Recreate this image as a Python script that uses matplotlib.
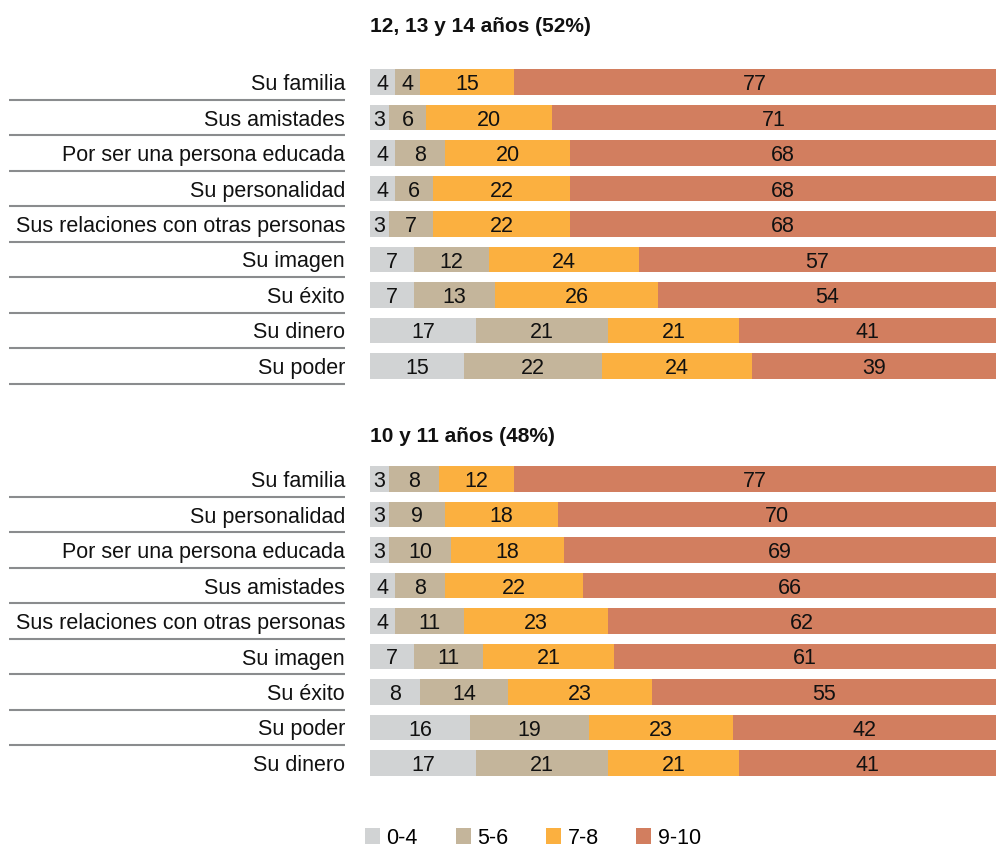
import matplotlib
matplotlib.use("Agg")
import matplotlib.pyplot as plt
from matplotlib.patches import Patch

plt.rcParams['font.family'] = ['Liberation Sans', 'DejaVu Sans']

legend_labels = ["0-4", "5-6", "7-8", "9-10"]
colors = ["#d1d3d4", "#c4b59b", "#fbb040", "#d27e5f"]

title1 = "12, 13 y 14 años (52%)"
cats1 = ["Su familia", "Sus amistades", "Por ser una persona educada", "Su personalidad",
         "Sus relaciones con otras personas", "Su imagen", "Su éxito", "Su dinero", "Su poder"]
v1_04 = [4, 3, 4, 4, 3, 7, 7, 17, 15]
v1_56 = [4, 6, 8, 6, 7, 12, 13, 21, 22]
v1_78 = [15, 20, 20, 22, 22, 24, 26, 21, 24]
v1_910 = [77, 71, 68, 68, 68, 57, 54, 41, 39]

title2 = "10 y 11 años (48%)"
cats2 = ["Su familia", "Su personalidad", "Por ser una persona educada", "Sus amistades",
         "Sus relaciones con otras personas", "Su imagen", "Su éxito", "Su poder", "Su dinero"]
v2_04 = [3, 3, 3, 4, 4, 7, 8, 16, 17]
v2_56 = [8, 9, 10, 8, 11, 11, 14, 19, 21]
v2_78 = [12, 18, 18, 22, 23, 21, 23, 23, 21]
v2_910 = [77, 70, 69, 66, 62, 61, 55, 42, 41]

W, H = 996, 848
FS = 15.5
fig = plt.figure(figsize=(W / 100, H / 100), dpi=100)

def panel(top_px, bottom_px, cats, series, title, last_line):
    left = 370 / W
    width = 626 / W
    ax = fig.add_axes([left, 1 - bottom_px / H, width, (bottom_px - top_px) / H])
    n = len(cats)
    ys = list(range(n))
    lefts = [0] * n
    for vals, c in zip(series, colors):
        ax.barh(ys, vals, left=lefts, height=0.73, color=c, edgecolor='none')
        for y, l, v in zip(ys, lefts, vals):
            ax.text(l + v / 2, y, str(v), ha='center', va='center_baseline', fontsize=FS, color='#111111')
        lefts = [a + b for a, b in zip(lefts, vals)]
    ax.set_xlim(0, 100)
    ax.set_ylim(n - 0.5, -0.5)
    ax.axis('off')
    tr = ax.get_yaxis_transform()
    x0 = (9 - 370) / 626
    x1 = (345 - 370) / 626
    xl = (345 - 370) / 626
    for i, c in enumerate(cats):
        ax.text(xl, i, c, transform=tr, ha='right', va='center_baseline', fontsize=FS, color='#111111')
        if i < n - 1 or last_line:
            ax.plot([x0, x1], [i + 0.5, i + 0.5], transform=tr, color='#8a8c8e',
                    lw=1.5, clip_on=False, solid_capstyle='butt')
    return ax

panel(64.25, 383.75, cats1, [v1_04, v1_56, v1_78, v1_910], title1, True)
panel(461.25, 780.75, cats2, [v2_04, v2_56, v2_78, v2_910], title2, False)

fig.text(370 / W, 1 - 24 / H, title1, ha='left', va='center_baseline', fontsize=15, fontweight='bold', color='#111111')
fig.text(370 / W, 1 - 434 / H, title2, ha='left', va='center_baseline', fontsize=15, fontweight='bold', color='#111111')

handles = [Patch(facecolor=c, edgecolor='none') for c in colors]
fig.legend(handles, legend_labels, loc='center left', bbox_to_anchor=(365 / W, 1 - 838 / H),
           ncol=4, frameon=False, fontsize=FS, handlelength=0.7, handleheight=0.7,
           handletextpad=0.3, columnspacing=1.75, borderaxespad=0, borderpad=0)

fig.savefig("out.png", dpi=100)
